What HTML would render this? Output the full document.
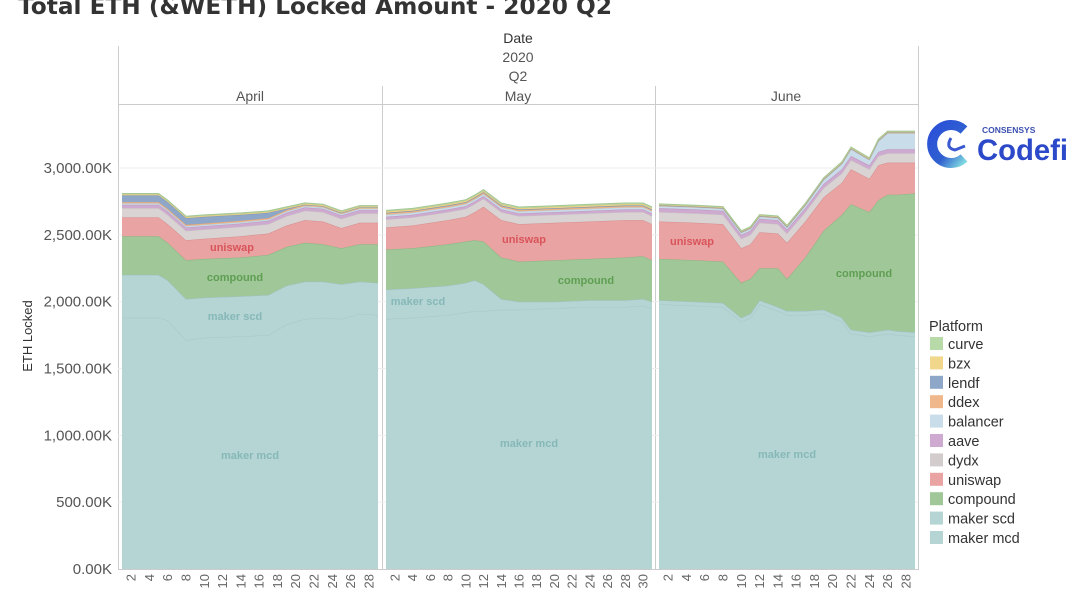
<!DOCTYPE html>
<html><head><meta charset="utf-8"><style>
body{margin:0;background:#fff;width:1080px;height:591px;overflow:hidden;font-family:"Liberation Sans",sans-serif}
svg{position:absolute;left:0;top:0}
</style></head><body>
<svg id="s" width="1080" height="591" viewBox="0 0 1080 591" xmlns="http://www.w3.org/2000/svg" font-family="Liberation Sans, sans-serif">
<text x="18" y="14" font-size="23" font-weight="bold" fill="#333" font-family="DejaVu Sans, sans-serif" textLength="594" lengthAdjust="spacingAndGlyphs">Total ETH (&amp;WETH) Locked Amount - 2020 Q2</text>
<g fill="#333" font-size="14" text-anchor="middle">
<text x="518" y="43">Date</text>
<text x="518" y="62" fill="#555">2020</text>
<text x="518" y="81" fill="#555">Q2</text>
<text x="250" y="101" fill="#555">April</text>
<text x="518" y="101" fill="#555">May</text>
<text x="786" y="101" fill="#555">June</text>
</g>
<g stroke="#ccc" stroke-width="1">
<line x1="118.5" y1="46" x2="118.5" y2="570"/>
<line x1="918.5" y1="46" x2="918.5" y2="570"/>
<line x1="118" y1="104.5" x2="918" y2="104.5"/>
<line x1="382.5" y1="86" x2="382.5" y2="570"/>
<line x1="655.5" y1="86" x2="655.5" y2="570"/>
<line x1="118" y1="569.5" x2="918" y2="569.5"/>
</g>
<g stroke="#eee" stroke-width="1" id="grid"></g>
<g id="areas"></g>
<g id="yl" font-size="15" fill="#555" text-anchor="end"></g>
<text transform="translate(32,336) rotate(-90)" font-size="13" fill="#333" text-anchor="middle">ETH Locked</text>
<g id="xl" font-size="13" fill="#666"></g>
<g font-size="11" font-weight="bold" text-anchor="middle">
<text x="232" y="251" fill="#d9545a">uniswap</text>
<text x="235" y="281" fill="#5f9e53">compound</text>
<text x="235" y="320" fill="#86b8b8">maker scd</text>
<text x="250" y="459" fill="#86b8b8">maker mcd</text>
<text x="524" y="243" fill="#d9545a">uniswap</text>
<text x="586" y="284" fill="#5f9e53">compound</text>
<text x="418" y="305" fill="#86b8b8">maker scd</text>
<text x="529" y="447" fill="#86b8b8">maker mcd</text>
<text x="692" y="245" fill="#d9545a">uniswap</text>
<text x="864" y="277" fill="#5f9e53">compound</text>
<text x="787" y="458" fill="#86b8b8">maker mcd</text>
</g>
<defs><linearGradient id="lg" x1="0" y1="0" x2="1" y2="1"><stop offset="0" stop-color="#2a4fd8"/><stop offset="0.6" stop-color="#3060d0"/><stop offset="1" stop-color="#7fd9e0"/></linearGradient></defs>
<path d="M964,130 A19,19 0 1 0 964,158" fill="none" stroke="url(#lg)" stroke-width="10"/>
<path d="M951,138 Q945,148 955,150 L965,146" fill="none" stroke="#3a58d0" stroke-width="3"/>
<text x="982" y="133" font-size="8.5" font-weight="bold" fill="#3a4fb0">CONSENSYS</text>
<text x="977" y="160" font-size="30" font-weight="bold" fill="#2c49c9" textLength="91" lengthAdjust="spacingAndGlyphs">Codefi</text>
<g id="leg" font-size="14.5" fill="#333"><text x="929" y="331">Platform</text></g>
</svg>
<script>
var NS="http://www.w3.org/2000/svg";
function Y(v){return 569-v*0.13367;}
function el(t,a,p){var e=document.createElementNS(NS,t);for(var k in a)e.setAttribute(k,a[k]);document.getElementById(p).appendChild(e);return e;}
for(var i=0;i<=6;i++){var y=Y(i*500);if(i>0)el('line',{x1:118,x2:918,y1:y,y2:y},'grid');
 var t=el('text',{x:112,y:y+5},'yl');t.textContent=(i*500).toLocaleString('en-US')+'.00K';}
var cols=["#b5d4d4","#b5d4d4","#9fc797","#e9a3a3","#d9d3d3","#cfaad0","#c9dcea","#efb78a","#8ea7c9","#f0d78c","#b7daa8"];
var lines=["#a5c8c8","#9cc2c2","#8ab682","#d78d8d","#c9c2c2","#bb98bc","#b5cbd9","#dea57a","#7d96b8","#dcc47b","#a3c895"];
function rep(n,v){var a=[];for(var i=0;i<n;i++)a.push(v);return a;}
var P=[
{x0:122,x1:378,n:29,d:[1,5,6,8,10,14,17,19,21,23,25,27,29],L:[
[1880,1880,1860,1710,1730,1740,1750,1830,1870,1880,1870,1910,1900],
[320,320,300,310,300,300,300,290,280,270,260,240,240],
[290,290,280,290,290,290,300,290,290,280,270,280,290],
[140,140,140,150,150,160,160,160,170,170,150,160,160],
rep(13,70),rep(13,25),rep(13,10),rep(13,10),
[50,50,50,50,50,45,40,10,0,0,0,0,0],rep(13,8),rep(13,6)]},
{x0:386,x1:652,n:31,d:[1,4,8,10,11,12,14,16,20,24,28,30,31],L:[
[1870,1880,1900,1920,1930,1930,1940,1940,1950,1960,1960,1970,1950],
[220,220,220,220,230,200,80,60,50,50,50,50,50],
[300,300,310,310,300,320,310,300,310,310,320,320,310],
[165,170,180,185,210,260,280,280,280,280,280,270,270],
rep(13,60),rep(13,20),rep(13,15),rep(13,10),rep(13,5),rep(13,10),rep(13,8)]},
{x0:659,x1:915,n:29,d:[1,5,8,10,11,12,14,15,17,19,21,22,24,25,26,27,29]}
];
(function(){var mcd=[1980,1970,1960,1850,1880,1980,1930,1900,1900,1910,1850,1760,1740,1750,1760,1750,1740];
var ct=[2320,2310,2300,2140,2170,2250,2250,2170,2330,2530,2650,2730,2670,2760,2800,2800,2810];
var ut=[2600,2590,2580,2400,2430,2520,2510,2440,2600,2780,2890,2990,2920,3020,3040,3040,3040];
var bal=[15,15,15,15,15,15,15,15,20,30,40,50,40,80,120,120,120];
var scd=rep(17,30),comp=[],uni=[];for(var i=0;i<17;i++){comp.push(ct[i]-mcd[i]-30);uni.push(ut[i]-ct[i]);}
P[2].L=[mcd,scd,comp,uni,rep(17,70),rep(17,30),bal,rep(17,4),rep(17,2),rep(17,5),rep(17,5)];})();
P.forEach(function(p){
 var xs=p.d.map(function(d){return p.x0+(d-1)*(p.x1-p.x0)/(p.n-1);});
 var m=p.d.length,base=rep(m,0);
 p.L.forEach(function(th,li){
  var top=base.map(function(b,i){return b+th[i];});
  var s='M'+xs.map(function(x,i){return x.toFixed(1)+','+Y(top[i]).toFixed(1);}).join(' L');
  for(var i=m-1;i>=0;i--)s+=' L'+xs[i].toFixed(1)+','+Y(base[i]).toFixed(1);
  s+='Z';
  el('path',{d:s,fill:cols[li]},'areas');
  el('path',{d:'M'+xs.map(function(x,i){return x.toFixed(1)+','+Y(top[i]).toFixed(1);}).join(' L'),fill:'none',stroke:lines[li],'stroke-width':1},'areas');
  base=top;});
 for(var d=2;d<=p.n-1;d+=2){var x=p.x0+(d-1)*(p.x1-p.x0)/(p.n-1);
  var t=el('text',{transform:'translate('+(x+4.5)+',574) rotate(-90)','text-anchor':'end'},'xl');t.textContent=d;}
});
var names=["curve","bzx","lendf","ddex","balancer","aave","dydx","uniswap","compound","maker scd","maker mcd"];
var lc=["#b7daa8","#f0d78c","#8ea7c9","#efb78a","#c9dcea","#cfaad0","#d2cccc","#e9a3a3","#9fc797","#b5d4d4","#b5d4d4"];
names.forEach(function(n,i){var y=337+i*19.4;el('rect',{x:930,y:y,width:13,height:13,fill:lc[i]},'leg');var t=el('text',{x:948,y:y+12},'leg');t.textContent=n;});
</script>
</body></html>
